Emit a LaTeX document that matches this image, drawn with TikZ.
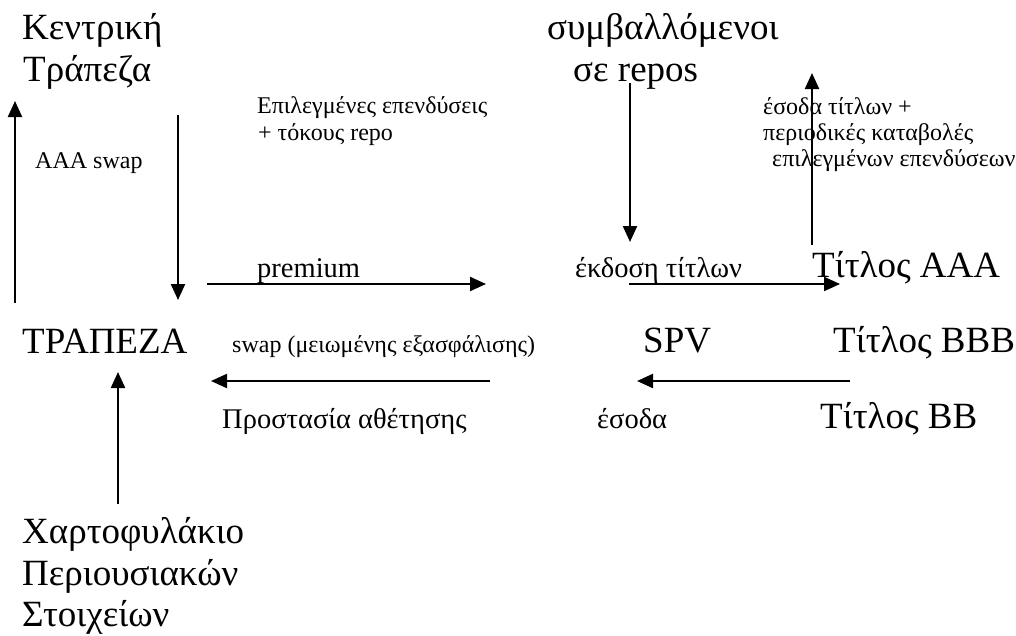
\documentclass[tikz,border=0pt]{standalone}
\usepackage{fontspec}
\setmainfont{LiberationSerif}[Extension=.ttf, UprightFont=*-Regular, BoldFont=*-Bold]
\usetikzlibrary{arrows.meta}
\begin{document}
\begin{tikzpicture}[x=1pt,y=-1pt,
  big/.style={font=\fontsize{37}{42}\selectfont, inner sep=0pt, anchor=base west},
  mid/.style={font=\fontsize{28.5}{33}\selectfont, inner sep=0pt, anchor=base west},
  small/.style={font=\fontsize{24}{27}\selectfont, inner sep=0pt, anchor=base west},
  flow/.style={line width=2.2pt, -{Triangle[length=16pt,width=14pt]}}]
\useasboundingbox[fill=white] (0,0) rectangle (1016,635);

% large labels
\node[big] (cb1) at (22,39) {Κεντρική};
\node[big] (cb2) at (23,81) {Τράπεζα};
\node[big] (rp1) at (547,39) {συμβαλλόμενοι};
\node[big] (rp2) at (573,81) {σε repos};
\node[big] (bank) at (22,353) {ΤΡΑΠΕΖΑ};
\node[big] (spv) at (643,352) {SPV};
\node[big] (aaa) at (812,277) {Τίτλος AAA};
\node[big] (bbb) at (833,352) {Τίτλος BBB};
\node[big] (bb) at (820,428) {Τίτλος BB};
\node[big] (pf1) at (22,543) {Χαρτοφυλάκιο};
\node[big] (pf2) at (22,585) {Περιουσιακών};
\node[big] (pf3) at (22,626) {Στοιχείων};

% medium labels
\node[mid] (prem) at (257,277) {premium};
\node[mid] (iss) at (575,277) {έκδοση τίτλων};
\node[mid] (prot) at (222,428) {Προστασία αθέτησης};
\node[mid] (inc) at (597,428) {έσοδα};

% small labels
\node[small] (sel1) at (257,113) {Επιλεγμένες επενδύσεις};
\node[small] (sel2) at (258,140) {+ τόκους repo};
\node[small] (aswap) at (35,168) {AAA swap};
\node[small] (swap) at (232,352) {swap (μειωμένης εξασφάλισης)};
\node[small] (inc1) at (763,114) {έσοδα τίτλων +};
\node[small] (inc2) at (763,140) {περιοδικές καταβολές};
\node[small] (inc3) at (772,166) {επιλεγμένων επενδύσεων};

% arrow end points
\coordinate (upL0) at (15,303);  \coordinate (upL1) at (15,101);
\coordinate (dnL0) at (178,115); \coordinate (dnL1) at (178,300);
\coordinate (pr0) at (207,284);  \coordinate (pr1) at (486,284);
\coordinate (dnR0) at (630,83);  \coordinate (dnR1) at (630,242);
\coordinate (upR0) at (812,245); \coordinate (upR1) at (812,73);
\coordinate (is0) at (629,284);  \coordinate (is1) at (840,284);
\coordinate (sw0) at (490,381);  \coordinate (sw1) at (211,381);
\coordinate (es0) at (850,381);  \coordinate (es1) at (637,381);
\coordinate (pf0) at (118,504);  \coordinate (pfT) at (118,372);

\draw[flow] (upL0) -- (upL1);
\draw[flow] (dnL0) -- (dnL1);
\draw[flow] (pr0) -- (pr1);
\draw[flow] (dnR0) -- (dnR1);
\draw[flow] (upR0) -- (upR1);
\draw[flow] (is0) -- (is1);
\draw[flow] (sw0) -- (sw1);
\draw[flow] (es0) -- (es1);
\draw[flow] (pf0) -- (pfT);
\end{tikzpicture}
\end{document}
